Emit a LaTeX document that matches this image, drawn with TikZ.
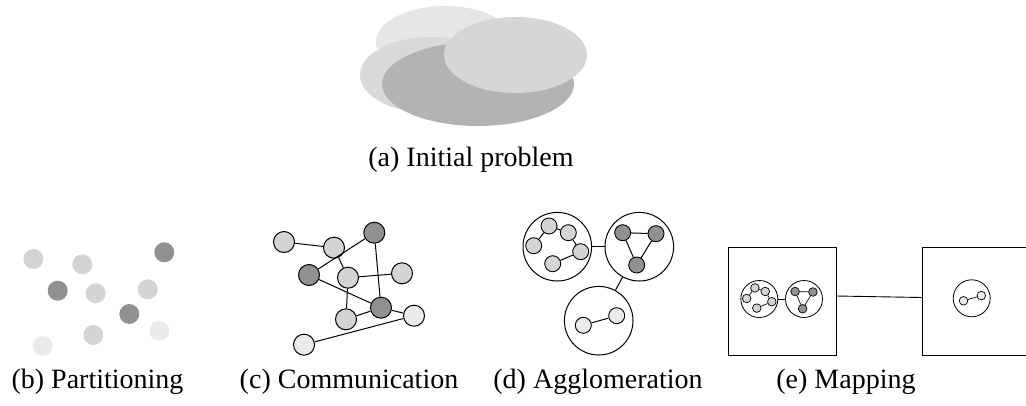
\documentclass[tikz,border=0pt]{standalone}
\usepackage{fontspec}
\setmainfont{Liberation Serif}
\definecolor{cLight}{HTML}{D4D4D4}
\definecolor{cDark}{HTML}{919191}
\definecolor{cVLight}{HTML}{EBEBEB}
\definecolor{eA}{HTML}{E6E6E6}
\definecolor{eB}{HTML}{D9D9D9}
\definecolor{eC}{HTML}{B3B3B3}
\definecolor{eD}{HTML}{D6D6D6}
\begin{document}
\begin{tikzpicture}[x=1pt,y=-1pt,
  captext/.style={font=\fontsize{28}{34}\selectfont, anchor=base, inner sep=0},
  bdot/.style={circle, minimum size=20pt, inner sep=0, draw=none},
  cdot/.style={circle, minimum size=21pt, inner sep=0, draw, line width=1pt},
  ddot/.style={circle, minimum size=16pt, inner sep=0, draw, line width=0.9pt},
  dgroup/.style={circle, minimum size=68.6pt, inner sep=0, draw, line width=1pt},
  edot/.style={circle, minimum size=8.6pt, inner sep=0, draw, line width=0.7pt},
  egroup/.style={circle, minimum size=37pt, inner sep=0, draw, line width=0.8pt},
  ebox/.style={rectangle, minimum width=108pt, minimum height=108pt, inner sep=0, draw, line width=0.9pt},
  link/.style={line width=1pt},
  elink/.style={line width=0.7pt}]
\useasboundingbox (0,0) rectangle (1026,405);
\clip (0,0) rectangle (1026,405);

% (a) Initial problem
\fill[eA] (445,42) ellipse [x radius=69pt, y radius=36pt];
\fill[eB] (430,75) ellipse [x radius=70pt, y radius=38pt];
\fill[eC] (478,84) ellipse [x radius=96pt, y radius=42pt];
\fill[eD] (515.5,55) ellipse [x radius=71.5pt, y radius=38pt];
\node[captext] (capa) at (471,166) {(a) Initial problem};

% (b) Partitioning
\node[bdot, fill=cLight]  (b1)  at (33.3,259) {};
\node[bdot, fill=cLight]  (b2)  at (82.3,264.3) {};
\node[bdot, fill=cDark]   (b3)  at (164.3,252.3) {};
\node[bdot, fill=cDark]   (b4)  at (57.7,290.7) {};
\node[bdot, fill=cLight]  (b5)  at (95.7,293.3) {};
\node[bdot, fill=cLight]  (b6)  at (147.7,289.3) {};
\node[bdot, fill=cDark]   (b7)  at (129.3,314) {};
\node[bdot, fill=cVLight] (b8)  at (159.3,330.7) {};
\node[bdot, fill=cLight]  (b9)  at (93.3,335) {};
\node[bdot, fill=cVLight] (b10) at (42.7,346) {};
\node[captext] (capb) at (97.5,388) {(b) Partitioning};

% (c) Communication
\node[cdot, fill=cLight]  (c1)  at (284,242) {};
\node[cdot, fill=cLight]  (c2)  at (334,247.7) {};
\node[cdot, fill=cDark]   (c3)  at (374.3,232.7) {};
\node[cdot, fill=cDark]   (c4)  at (309,275) {};
\node[cdot, fill=cLight]  (c5)  at (348,277.7) {};
\node[cdot, fill=cLight]  (c6)  at (402,273.3) {};
\node[cdot, fill=cDark]   (c7)  at (381,307.7) {};
\node[cdot, fill=cLight]  (c8)  at (346,319.3) {};
\node[cdot, fill=cVLight] (c9)  at (414,315.7) {};
\node[cdot, fill=cVLight] (c10) at (304,344.7) {};
\draw[link] (c1) -- (c2);
\draw[link] (c2) -- (c5);
\draw[link] (c4) -- (c3);
\draw[link] (c4) -- (c7);
\draw[link] (c5) -- (c6);
\draw[link] (c5) -- (c8);
\draw[link] (c3) -- (c7);
\draw[link] (c8) -- (c7);
\draw[link] (c7) -- (c9);
\draw[link] (c9) -- (c10);
\node[captext] (capc) at (349,388) {(c) Communication};

% (d) Agglomeration
\node[dgroup] (D1) at (557.3,246.7) {};
\node[dgroup] (D2) at (639.3,246.7) {};
\node[dgroup] (D3) at (598.7,320.7) {};
\draw[link] (D1) -- (D2);
\draw[link] (D2) -- (D3);
\node[ddot, fill=cLight] (d1) at (549,226) {};
\node[ddot, fill=cLight] (d2) at (568.3,232.7) {};
\node[ddot, fill=cLight] (d3) at (533.7,245.7) {};
\node[ddot, fill=cLight] (d4) at (580.7,251.7) {};
\node[ddot, fill=cLight] (d5) at (552.7,263.7) {};
\draw[link] (d3) -- (d1);
\draw[link] (d1) -- (d2);
\draw[link] (d2) -- (d4);
\draw[link] (d4) -- (d5);
\node[ddot, fill=cDark] (e1) at (622.7,232.7) {};
\node[ddot, fill=cDark] (e2) at (656,233.7) {};
\node[ddot, fill=cDark] (e3) at (636.7,265) {};
\draw[link] (e1) -- (e2);
\draw[link] (e2) -- (e3);
\draw[link] (e3) -- (e1);
\node[ddot, fill=cVLight] (f1) at (583.3,325.3) {};
\node[ddot, fill=cVLight] (f2) at (616.7,315.7) {};
\draw[link] (f1) -- (f2);
\node[captext] (capd) at (598,388) {(d) Agglomeration};

% (e) Mapping
\node[ebox] (lbox) at (782,301) {};
\node[ebox] (rbox) at (976,301) {};
\draw[line width=0.9pt] ([yshift=5pt]lbox.east) -- ([yshift=3.5pt]rbox.west);
\node[egroup] (E1) at (759.3,299) {};
\node[egroup] (E2) at (804,299) {};
\node[egroup] (E3) at (971.7,298.3) {};
\draw[elink] (E1) -- (E2);
\node[edot, fill=cLight] (g1) at (754.9,287.9) {};
\node[edot, fill=cLight] (g2) at (765.2,291.5) {};
\node[edot, fill=cLight] (g3) at (746.7,298.5) {};
\node[edot, fill=cLight] (g4) at (771.8,301.7) {};
\node[edot, fill=cLight] (g5) at (756.8,308.1) {};
\draw[elink] (g3) -- (g1);
\draw[elink] (g1) -- (g2);
\draw[elink] (g2) -- (g4);
\draw[elink] (g4) -- (g5);
\node[edot, fill=cDark] (h1) at (795.1,291.5) {};
\node[edot, fill=cDark] (h2) at (812.9,292.0) {};
\node[edot, fill=cDark] (h3) at (802.6,308.8) {};
\draw[elink] (h1) -- (h2);
\draw[elink] (h2) -- (h3);
\draw[elink] (h3) -- (h1);
\node[edot, fill=cVLight] (k1) at (963.5,300.8) {};
\node[edot, fill=cVLight] (k2) at (981.3,295.6) {};
\draw[elink] (k1) -- (k2);
\node[captext] (cape) at (846,388) {(e) Mapping};
\end{tikzpicture}
\end{document}
